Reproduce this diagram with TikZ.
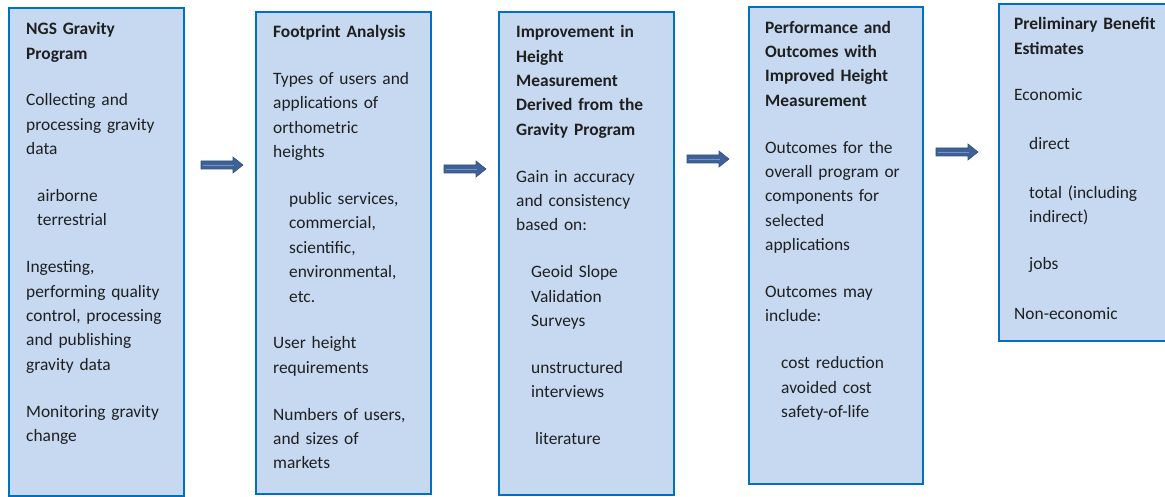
\documentclass[tikz,border=0pt]{standalone}
\usepackage{fontspec}
\setmainfont{Carlito}
\definecolor{boxfill}{RGB}{198,217,241}
\definecolor{boxline}{RGB}{0,112,192}
\definecolor{arrowfill}{RGB}{62,98,152}
\definecolor{arrowline}{RGB}{48,80,128}
\definecolor{arrowshine}{RGB}{118,148,192}
\newcommand{\gap}{22.4pt}
\newcommand{\ind}[1]{\hspace*{#1}}
\begin{document}
\begin{tikzpicture}[x=1pt,y=-1pt,
  stage/.style={draw=boxline, fill=boxfill, line width=2.4pt, rectangle,
    anchor=north west, inner sep=0pt},
  stagetext/.style={anchor=north west, inner sep=0pt, align=left,
    text width=152pt, text=black!88,
    font={\fontsize{17.4pt}{24.4pt}\selectfont\parindent=0pt}},
  % block arrow, 42 long, shaft 8 thick, head 16 wide and 10 long
  flowarrow/.pic={
    \draw[draw=arrowline, fill=arrowfill, line width=0.6pt, line join=miter]
      (-21,-4) -- (11,-4) -- (11,-8) -- (21,0) -- (11,8) -- (11,4)
      -- (-21,4) -- cycle;
    \draw[arrowshine, line width=0.7pt] (-19.5,0) -- (12,0);
  }]

\useasboundingbox (0,0) rectangle (1165,497);
\clip (0,0) rectangle (1165,497);

% the five stages
\node[stage, minimum width=175pt, minimum height=488pt] (b1) at (8,7) {};
\node[stage, minimum width=175pt, minimum height=482pt] (b2) at (255,11) {};
\node[stage, minimum width=175pt, minimum height=483pt] (b3) at (498,11) {};
\node[stage, minimum width=174pt, minimum height=477pt] (b4) at (748,6) {};
\node[stage, minimum width=180pt, minimum height=337pt] (b5) at (998,3) {};

% block arrows between the stages
\pic (a1) at (222,165) {flowarrow};
\pic (a2) at (465,169) {flowarrow};
\pic (a3) at (708,159) {flowarrow};
\pic (a4) at (957,152) {flowarrow};

% stage contents
\node[stagetext] (t1) at (26,18.5) {\rule{0pt}{16pt}\textbf{NGS Gravity}\\\textbf{Program}\\[\gap]
Collecting and\\processing gravity\\data\\[\gap]
\ind{11pt}airborne\\\ind{11pt}terrestrial\\[\gap]
Ingesting,\\performing quality\\control, processing\\and publishing\\gravity data\\[\gap]
Monitoring gravity\\change};

\node[stagetext] (t2) at (273,21.5) {\rule{0pt}{16pt}\textbf{Footprint Analysis}\\[\gap]
Types of users and\\applications of\\orthometric\\heights\\[\gap]
\ind{16pt}public services,\\\ind{16pt}commercial,\\\ind{16pt}scientific,\\\ind{16pt}environmental,\\\ind{16pt}etc.\\[\gap]
User height\\requirements\\[\gap]
Numbers of users,\\and sizes of\\markets};

\node[stagetext] (t3) at (516,21.5) {\rule{0pt}{16pt}\textbf{Improvement in}\\\textbf{Height}\\\textbf{Measurement}\\\textbf{Derived from the}\\\textbf{Gravity Program}\\[\gap]
Gain in accuracy\\and consistency\\based on:\\[\gap]
\ind{15pt}Geoid Slope\\\ind{15pt}Validation\\\ind{15pt}Surveys\\[\gap]
\ind{15pt}unstructured\\\ind{15pt}interviews\\[\gap]
\ind{19pt}literature};

\node[stagetext] (t4) at (765,17) {\rule{0pt}{16pt}\textbf{Performance and}\\\textbf{Outcomes with}\\\textbf{Improved Height}\\\textbf{Measurement}\\[\gap]
Outcomes for the\\overall program or\\components for\\selected\\applications\\[\gap]
Outcomes may\\include:\\[\gap]
\ind{16pt}cost reduction\\\ind{16pt}avoided cost\\\ind{16pt}safety-of-life};

\node[stagetext] (t5) at (1014,13.5) {\rule{0pt}{16pt}\textbf{Preliminary Benefit}\\\textbf{Estimates}\\[21.6pt]
Economic\\[25.3pt]
\ind{15pt}direct\\[23.9pt]
\ind{15pt}total (including\\\ind{15pt}indirect)\\[22.2pt]
\ind{15pt}jobs\\[25.6pt]
Non-economic};
\end{tikzpicture}
\end{document}
